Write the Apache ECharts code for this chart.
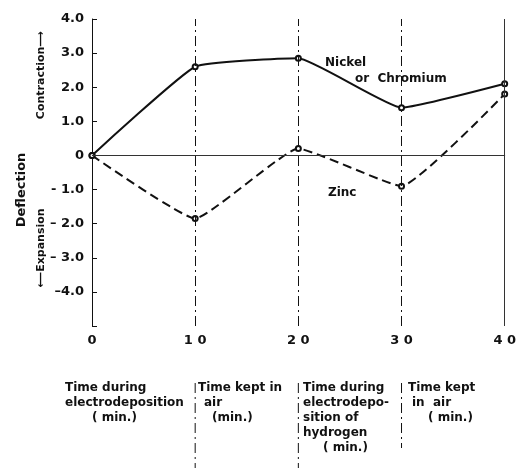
<!DOCTYPE html>
<html>
<head>
<meta charset="utf-8">
<script src="https://cdn.jsdelivr.net/npm/echarts@6/dist/echarts.min.js"></script>
<style>
  html, body { margin: 0; padding: 0; background: #fff; }
  #chart { width: 519px; height: 470px; }
</style>
</head>
<body>
<div id="chart"></div>
<script>
// time axis (min.)
var times = [0, 10, 20, 30, 40];
var nickel = [0, 2.6, 2.85, 1.4, 2.1];
var zinc = [0, -1.85, 0.2, -0.9, 1.8];
var xTickLabels = {0: '0', 10: '1 0', 20: '2 0', 30: '3 0', 40: '4 0'};
var yTickLabels = {'4': '4.0', '3': '3.0', '2': '2.0', '1': '1.0', '0': '0',
  '-1': '- 1.0', '-2': '\u2013 2.0', '-3': '\u2013 3.0', '-4': '\u20134.0'};
// phase boundaries drawn as dash-dot lines
var phaseEdges = [10, 20, 30];

// text blocks under the axis: [line, x offset]
var phaseNotes = [
  {left: 65, lines: [['Time during', 0], ['electrodeposition', 0], ['( min.)', 27]]},
  {left: 198, lines: [['Time kept in', 0], ['air', 6], ['(min.)', 14]]},
  {left: 303, lines: [['Time during', 0], ['electrodepo-', 0], ['sition of', 0], ['hydrogen', 0], ['( min.)', 20]]},
  {left: 408, lines: [['Time kept', 0], ['in  air', 4], ['( min.)', 20]]}
];

var FONT = 'DejaVu Sans';
var ink = '#111';

var chart = echarts.init(document.getElementById('chart'));

function pairs(ys) {
  return times.map(function (t, i) { return [t, ys[i]]; });
}

chart.setOption({
  animation: false,
  grid: {left: 92, right: 12, top: 19, bottom: 144},
  xAxis: {
    type: 'value', min: 0, max: 40, interval: 10,
    axisLine: {lineStyle: {color: ink, width: 1}},
    axisTick: {show: false},
    splitLine: {show: false},
    axisLabel: {
      margin: 8, color: ink, fontFamily: FONT, fontWeight: 'bold', fontSize: 13,
      formatter: function (v) { return xTickLabels[v]; }
    }
  },
  yAxis: {
    type: 'value', min: -5, max: 4, interval: 1,
    axisLine: {show: true, lineStyle: {color: ink, width: 1}},
    axisTick: {show: true, inside: true, length: 5, lineStyle: {color: ink}},
    splitLine: {show: false},
    axisLabel: {
      margin: 8, color: ink, fontFamily: FONT, fontWeight: 'bold', fontSize: 13,
      formatter: function (v) { return yTickLabels[String(v)] || ''; }
    }
  },
  series: [
    {
      name: 'Nickel or Chromium', type: 'line', data: pairs(nickel),
      smooth: 0.12,
      symbol: 'emptyCircle', symbolSize: 5,
      lineStyle: {color: ink, width: 2},
      itemStyle: {color: ink, borderWidth: 1},
      markLine: {
        silent: true, symbol: 'none', label: {show: false},
        data: [
          {yAxis: 0, lineStyle: {type: 'solid', width: 1, color: '#333'}},
          {xAxis: 40, lineStyle: {type: 'solid', width: 1, color: '#333'}}
        ].concat(phaseEdges.map(function (t) {
          return {xAxis: t, lineStyle: {type: [10, 4, 2, 4], width: 1, color: ink}};
        }))
      }
    },
    {
      name: 'Zinc', type: 'line', data: pairs(zinc),
      smooth: 0.12,
      symbol: 'emptyCircle', symbolSize: 5,
      lineStyle: {color: ink, width: 2, type: [9, 5]},
      itemStyle: {color: ink, borderWidth: 1}
    }
  ]
});

// decorations that hang off the chart: axis names, labels, and text under the axis
var graphics = [];
function txt(x, y, s, size, rot) {
  graphics.push({
    type: 'text', x: x, y: y, rotation: rot || 0,
    style: {text: s, fill: ink, font: 'bold ' + size + 'px "' + FONT + '"',
      align: rot ? 'center' : 'left', verticalAlign: 'middle'}
  });
}
txt(22, 190, 'Deflection', 13, Math.PI / 2);
txt(41, 75, 'Contraction\u27f6', 11, Math.PI / 2);
txt(41, 248, '\u27f5Expansion', 11, Math.PI / 2);
txt(325, 63, 'Nickel', 12);
txt(355, 79, 'or  Chromium', 12);
txt(328, 193, 'Zinc', 12);

phaseNotes.forEach(function (b) {
  b.lines.forEach(function (ln, i) {
    txt(b.left + ln[1], 388 + i * 15, ln[0], 12);
  });
});

phaseEdges.forEach(function (t, i) {
  var px = chart.convertToPixel({xAxisIndex: 0}, t);
  graphics.push({
    type: 'line', shape: {x1: px, y1: 383, x2: px, y2: i === 2 ? 448 : 468},
    style: {stroke: ink, lineWidth: 1, lineDash: [10, 4, 2, 4]}
  });
});

chart.setOption({graphic: graphics});
</script>
</body>
</html>
